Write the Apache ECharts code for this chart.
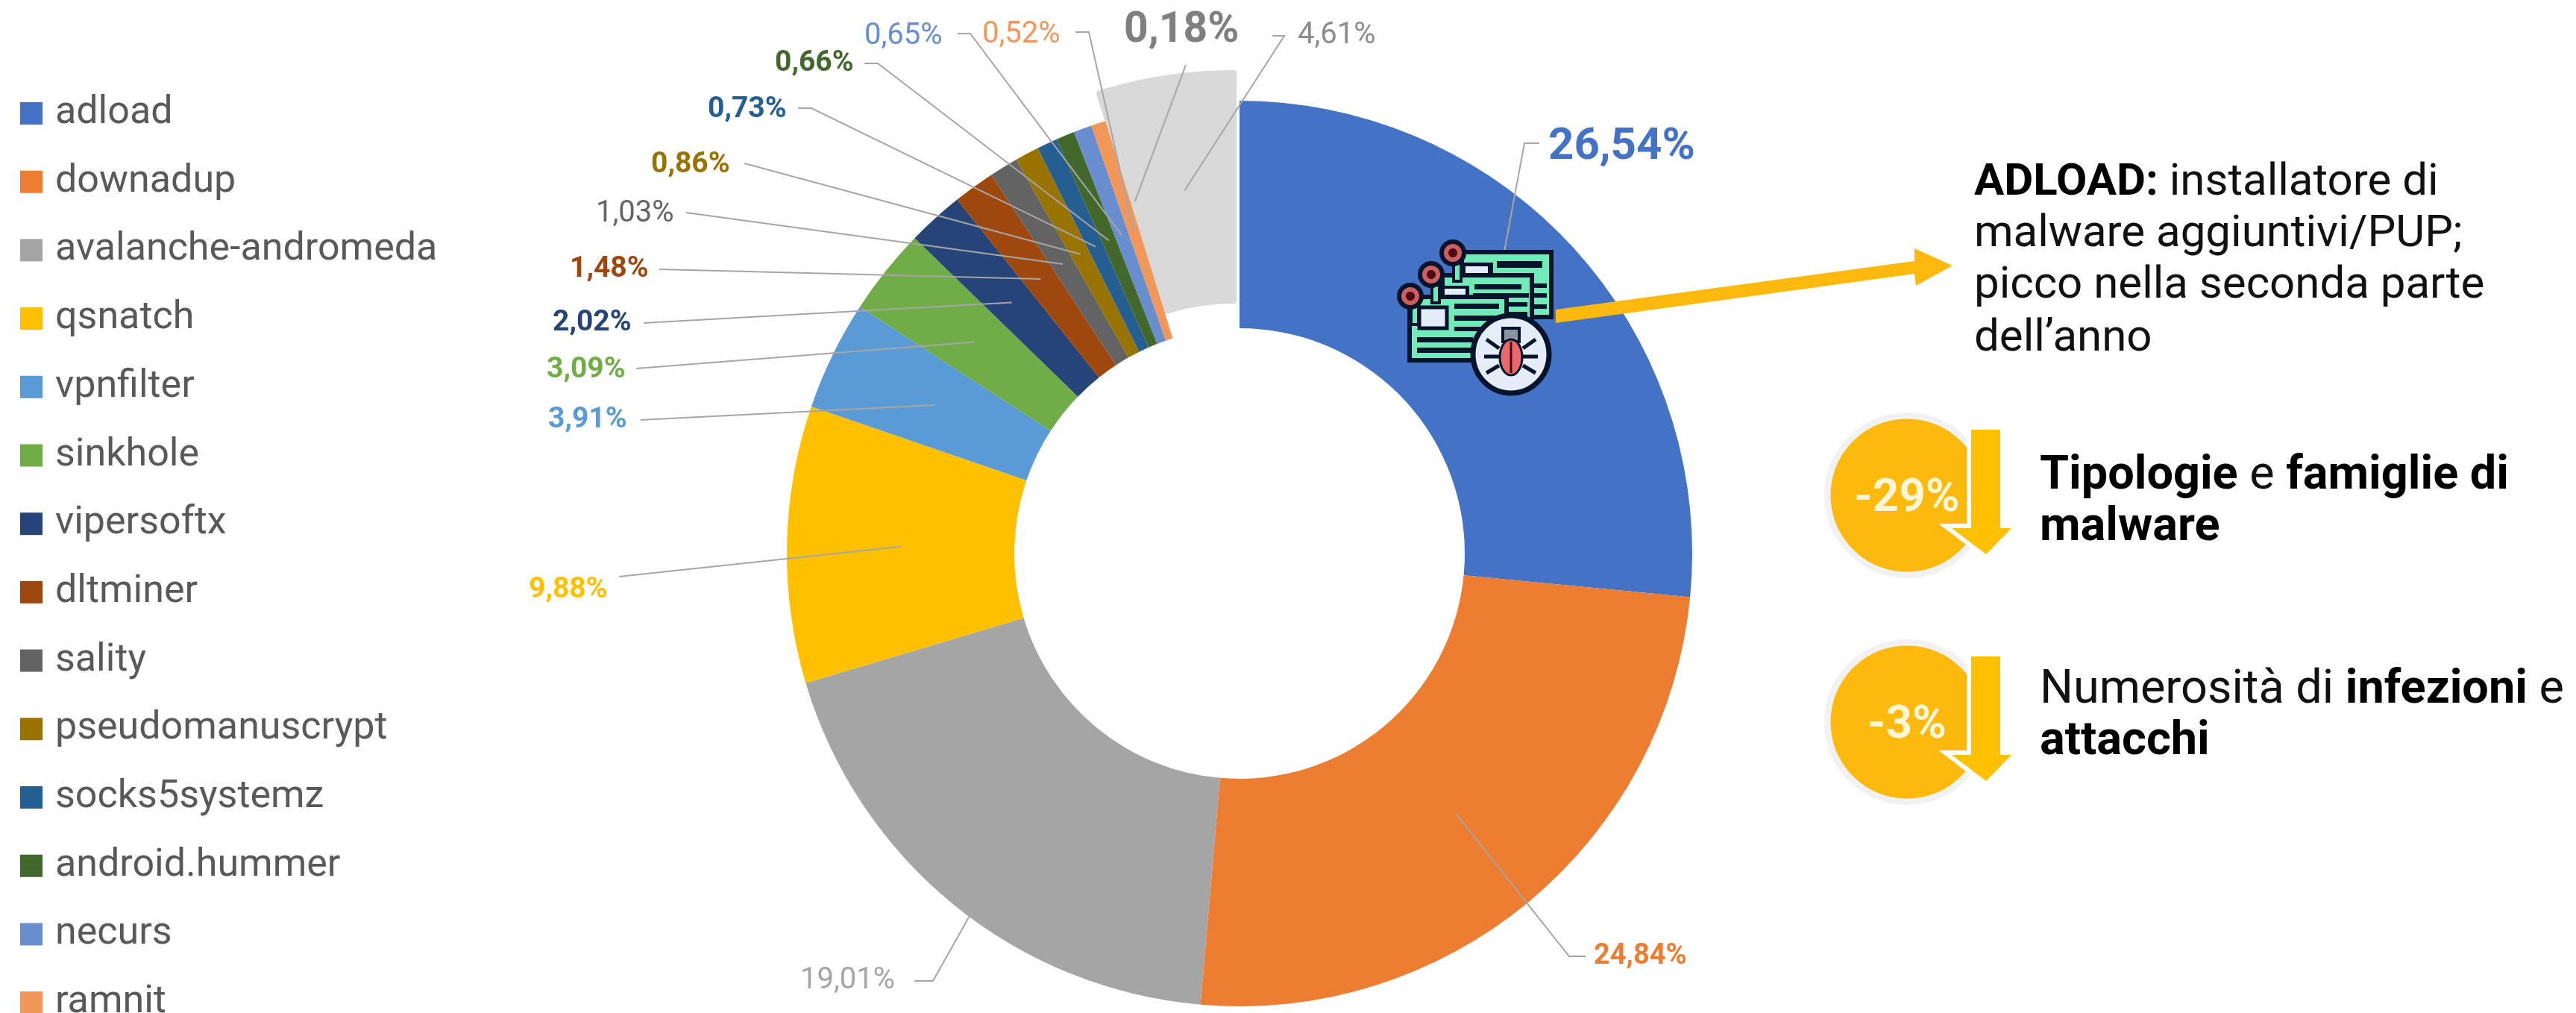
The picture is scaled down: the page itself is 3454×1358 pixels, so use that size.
<!DOCTYPE html>
<html><head><meta charset="utf-8">
<style>html,body{margin:0;padding:0;background:#fff}#c{width:3454px;height:1358px}</style>
<script src="https://cdn.jsdelivr.net/npm/echarts@6/dist/echarts.min.js"></script>
</head><body><div id="c"></div>
<script>
const families = ['adload','downadup','avalanche-andromeda','qsnatch','vpnfilter','sinkhole','vipersoftx','dltminer','sality','pseudomanuscrypt','socks5systemz','android.hummer','necurs','ramnit'];
const familyValues = [26.54,24.84,19.01,9.88,3.91,3.09,2.02,1.48,1.03,0.86,0.73,0.66,0.65,0.52];
const familyColors = ['#4472C4','#ED7D31','#A5A5A5','#FFC000','#5B9BD5','#70AD47','#264478','#9E480E','#636363','#997300','#255E91','#43682B','#698ED0','#F1975A'];
const otherNames = ['altra famiglia','altre famiglie'];
const otherValues = [0.18,4.61];
const otherColors = ['#7F7F7F','#8C8C8C'];

// label layout: [left x, centre y, elbow x, elbow y, line-end x, line-end y, fontSize, bold]
const familyPlacement = [
 [2076,198,2044,192,2064,192,60,true],
 [2137,1282,2104,1282,2126,1282,38,true],
 [1073,1315,1251,1315,1226,1315,40,false],
 [709,791,830,773,830,773,39,true],
 [735,563,859,563,859,563,39,true],
 [733,496,853,494,853,494,39,true],
 [741,433,863,433,863,433,39,true],
 [764,361,884,361,884,361,39,true],
 [799,287,920,285,920,285,40,false],
 [873,221,998,219,998,219,39,true],
 [949,147,1088,145,1070,145,39,true],
 [1039,85,1177,85,1159,85,39,true],
 [1159,49,1301,45,1284,45,40,false],
 [1317,47,1460,43,1442,43,40,false]
];
const otherPlacement = [
 [1507,42,1590,87,1590,87,57,true],
 [1740,48,1722,48,1706,48,40,false]
];
const CX=1662, CY=742, R0=302, R1=607, SHIFT_X=-8, SHIFT_Y=-37;
const LABEL_FONT='Roboto';
const LEADER='#a6a6a6';

const fmt=v=>v.toFixed(2).replace('.',',')+'%';
const allVals=[...familyValues,...otherValues];
const total=allVals.reduce((a,b)=>a+b,0);
const otherTotal=otherValues.reduce((a,b)=>a+b,0);
const familyTotal=familyValues.reduce((a,b)=>a+b,0);
let run=0; const anchors=allVals.map((v,i)=>{
  const a=(run+v/2)/total*2*Math.PI; run+=v;
  let x=CX+(R0+R1)/2*Math.sin(a), y=CY-(R0+R1)/2*Math.cos(a);
  if(i>=families.length){x+=SHIFT_X;y+=SHIFT_Y;}
  return [x,y];
});
const placement=[...familyPlacement,...otherPlacement];
const leaders=placement.map((q,i)=>{
  const pts=(q[2]===q[4]&&q[3]===q[5])?[[q[4],q[5]],anchors[i]]:[[q[4],q[5]],[q[2],q[3]],anchors[i]];
  return {type:'polyline',z:50,shape:{points:pts},style:{stroke:LEADER,lineWidth:2,fill:null}};
});

const labelFor=(q,color)=>({show:true,color,fontSize:q[6],fontWeight:q[7]?'bold':'normal'});
const hidden={color:'transparent'};
const mainData=[
 ...familyValues.map((v,i)=>({name:families[i],value:v,itemStyle:{color:familyColors[i]},label:labelFor(familyPlacement[i],familyColors[i])})),
 ...otherValues.map((v,i)=>({name:otherNames[i],value:v,itemStyle:hidden,label:{show:false}}))
];
const otherData=[
 ...otherValues.map((v,i)=>({name:otherNames[i],value:v,
    itemStyle:{color:'#D9D9D9',borderColor:'#D9D9D9',borderWidth:8},label:labelFor(otherPlacement[i],otherColors[i])})),
 {name:'resto',value:familyTotal,itemStyle:hidden,label:{show:false}}
];

const Z=50;
const rect=(x,y,w,h,fill,stroke,lw)=>({type:'rect',z:Z,shape:{x,y,width:w,height:h},style:{fill,stroke:stroke||null,lineWidth:lw||0}});
const ell=(cx,cy,rx,ry,fill,stroke,lw)=>({type:'ellipse',z:Z,shape:{cx,cy,rx,ry},style:{fill,stroke:stroke||null,lineWidth:lw||0}});
const line=(x1,y1,x2,y2,c,w)=>({type:'line',z:Z,shape:{x1,y1,x2,y2},style:{stroke:c,lineWidth:w}});
const poly=(pts,fill,stroke,lw)=>({type:'polygon',z:Z,shape:{points:pts},style:{fill,stroke:stroke||null,lineWidth:lw||0,lineJoin:'miter'}});
const mkRich=fs=>({b:{fontFamily:'Roboto',fontWeight:'bold',fontSize:fs,fill:'#000',color:'#000'}});
const txt=(x,y,t,fs)=>({type:'text',z:Z,x,y,style:{text:t,fontFamily:'Roboto',fontSize:fs,fill:'#111',verticalAlign:'middle',align:'left',rich:mkRich(fs)}});

const INK='#06142b', MINT='#72eab9', PIN='#c9605f', PALE='#e4edf8', ARROW='#FDB90D', AMBER='#FFC000', BUG='#e9686e';
const pin=(cx,cy)=>[rect(cx+1,cy+14,10,24,MINT,INK,4),ell(cx,cy,15,15,PIN,INK,6),ell(cx,cy,6,6,'#4a0a10')];
const icon=[
 // back window
 rect(1960,338,120,87,MINT,INK,6),
 rect(2007,350,61,9,INK), rect(1962,352,40,18,INK), rect(1965,357,30,9,PALE),
 rect(2054,380,20,6,INK), rect(2054,393,20,6,INK), rect(2054,408,20,6,INK),
 // middle window
 rect(1934,369,120,88,MINT,INK,6),
 rect(1977,381,63,7,INK), rect(1936,383,34,17,INK), rect(1937,387,28,8,PALE),
 rect(1975,393,75,6,INK), rect(2022,405,26,6,INK), rect(2022,418,26,6,INK),
 // front window
 rect(1890,398,130,85,MINT,INK,6),
 rect(1903,412,37,28,PALE,INK,5),
 rect(1950,407,60,7,INK), rect(1950,423,55,7,INK), rect(1950,438,40,6,INK),
 rect(1900,452,75,7,INK), rect(1900,466,75,7,INK),
 ...pin(1948,339),...pin(1919,368),...pin(1891,397),
 // bug badge
 ell(2026,475,51,52,PALE,INK,7),
 line(1993,455,2010,467,INK,5),line(2059,455,2042,467,INK,5),
 line(1990,478,2012,478,INK,5),line(2062,478,2040,478,INK,5),
 line(1993,500,2010,490,INK,5),line(2059,500,2042,490,INK,5),
 rect(2015,440,22,18,'#8a95a5',INK,4),
 ell(2026,479,15,24,BUG,INK,3),
 line(2026,458,2026,500,'#4a0a10',3)
];
const shaft=[[2643,0],[2682,0],[2682,132],[2697,132],[2663,167],[2617,132],[2643,132]];
function badge(cy,label,top){
 const pts=shaft.map(p=>[p[0],top+p[1]]);
 return [
  ell(2557,cy,111,111,'#f2f2f2'),
  ell(2557,cy,102.5,102.5,ARROW),
  poly(pts,'#fff','#fff',12),
  poly(pts,AMBER),
  {type:'text',z:Z+1,x:2557,y:cy+5,style:{text:label,fontFamily:'Roboto',fontWeight:'bold',fontSize:62,fill:'#FFF6D6',align:'center',verticalAlign:'middle'}}
 ];
}
const graphics=[
 ...leaders,
 ...icon,
 poly([[2086,415],[2567,350],[2567,333],[2618,356],[2569,383],[2567,367],[2086,433]],ARROW),
 txt(2647,246,'{b|ADLOAD:} installatore di',60),
 txt(2647,315,'malware aggiuntivi/PUP;',60),
 txt(2647,384,'picco nella seconda parte',60),
 txt(2647,455,'dell\u2019anno',60),
 ...badge(664,'-29%',576),
 ...badge(968,'-3%',880),
 txt(2735,639,'{b|Tipologie} e {b|famiglie di}',63),
 txt(2735,708,'{b|malware}',63),
 txt(2735,926,'Numerosit\u00e0 di {b|infezioni} e',63),
 txt(2735,995,'{b|attacchi}',63)
];

const pieCommon={type:'pie',radius:[R0,R1],clockwise:true,avoidLabelOverlap:false,silent:true,
   label:{show:true,position:'outside',fontFamily:LABEL_FONT,formatter:p=>fmt(p.value)},
   labelLine:{show:false}};
const layoutFrom=list=>p=>{const q=list[p.dataIndex]; if(!q) return {}; return {x:q[0],y:q[1],align:'left',verticalAlign:'middle'};};

const chart=echarts.init(document.getElementById('c'),null,{renderer:'canvas'});
chart.setOption({
 animation:false,
 backgroundColor:'#fff',
 legend:{show:true,orient:'vertical',left:27,top:126,height:1400,padding:0,itemWidth:30,itemHeight:30,itemGap:39.7,icon:'rect',selectedMode:false,
   data:families,textStyle:{fontFamily:'Roboto',fontSize:52,color:'#595959',padding:[0,0,0,12]}},
 series:[
  {...pieCommon,name:'altre',center:[CX+SHIFT_X,CY+SHIFT_Y],startAngle:90+otherTotal/total*360,
   labelLayout:layoutFrom(otherPlacement),data:otherData},
  {...pieCommon,name:'famiglie',center:[CX,CY],startAngle:90,
   labelLayout:layoutFrom(familyPlacement),data:mainData}
 ],
 graphic:{elements:graphics}
});
</script></body></html>
